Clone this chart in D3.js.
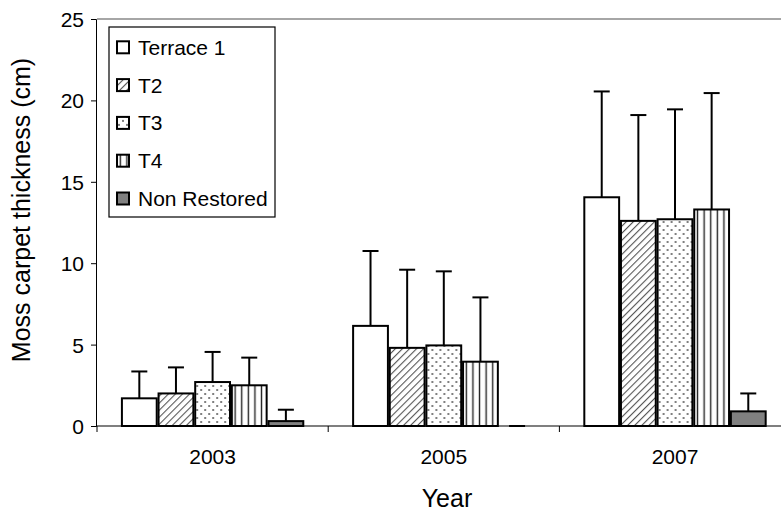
<!DOCTYPE html>
<html>
<head>
<meta charset="utf-8">
<script src="https://cdn.jsdelivr.net/npm/d3@7"></script>
<style>
  body { margin: 0; background: #fff; }
  text { font-family: "Liberation Sans", Arial, sans-serif; fill: #000; }
</style>
</head>
<body>
<svg width="781" height="514"></svg>
<script>
var years = ["2003", "2005", "2007"];
var series = ["Terrace 1", "T2", "T3", "T4", "Non Restored"];

// mean thickness (cm) per year
var terrace1 = [1.7, 6.15, 14.05];
var t2 = [2.0, 4.8, 12.6];
var t3 = [2.7, 4.95, 12.7];
var t4 = [2.5, 3.95, 13.3];
var nonRestored = [0.3, 0, 0.9];

// upper error (sd)
var terrace1Sd = [1.65, 4.6, 6.5];
var t2Sd = [1.6, 4.8, 6.5];
var t3Sd = [1.85, 4.55, 6.75];
var t4Sd = [1.7, 3.95, 7.15];
var nonRestoredSd = [0.7, 0, 1.1];

var yTicks = [0, 5, 10, 15, 20, 25];

var means = [terrace1, t2, t3, t4, nonRestored];
var sds = [terrace1Sd, t2Sd, t3Sd, t4Sd, nonRestoredSd];
var fills = ["#fff", "url(#diag)", "url(#dots)", "url(#vert)", "#808080"];

var data = [];
years.forEach(function(yr, i) {
    series.forEach(function(s, j) {
        data.push({year: yr, series: s, value: means[j][i], sd: sds[j][i], fill: fills[j]});
    });
});

var svg = d3.select("svg");
var defs = svg.append("defs");

var diag = defs.append("pattern").attr("id", "diag")
    .attr("patternUnits", "userSpaceOnUse").attr("width", 5).attr("height", 5)
    .attr("patternTransform", "rotate(45)");
diag.append("rect").attr("width", 5).attr("height", 5).attr("fill", "#fff");
diag.append("line").attr("x1", 0).attr("y1", 0).attr("x2", 0).attr("y2", 5)
    .attr("stroke", "#555").attr("stroke-width", 2.2);

var dots = defs.append("pattern").attr("id", "dots")
    .attr("patternUnits", "userSpaceOnUse").attr("width", 8).attr("height", 8);
dots.append("rect").attr("width", 8).attr("height", 8).attr("fill", "#fff");
dots.append("circle").attr("cx", 2).attr("cy", 2).attr("r", 1).attr("fill", "#555");
dots.append("circle").attr("cx", 6).attr("cy", 6).attr("r", 1).attr("fill", "#555");

var vert = defs.append("pattern").attr("id", "vert")
    .attr("patternUnits", "userSpaceOnUse").attr("width", 6.6).attr("height", 6);
vert.append("rect").attr("width", 6.6).attr("height", 6).attr("fill", "#fff");
vert.append("line").attr("x1", 3.3).attr("y1", 0).attr("x2", 3.3).attr("y2", 6)
    .attr("stroke", "#222").attr("stroke-width", 1.4);

var plotLeft = 97, plotTop = 19, plotBottom = 426;

var x0 = d3.scaleBand().domain(years).range([plotLeft, plotLeft + 3 * 231.2]);
var x1 = d3.scaleBand().domain(series).range([0, x0.bandwidth()])
    .paddingInner(0.05).paddingOuter(0.68);
var y = d3.scaleLinear().domain([0, 25]).range([plotBottom, plotTop]);

// top border of plot area
svg.append("line").attr("x1", plotLeft).attr("x2", 781).attr("y1", plotTop).attr("y2", plotTop)
    .attr("stroke", "#888").attr("stroke-width", 1.5);

// y axis
var yAxis = svg.append("g").attr("transform", "translate(" + (plotLeft - 1) + ",0)")
    .call(d3.axisLeft(y).tickValues(yTicks).tickSize(5).tickPadding(7));
yAxis.select(".domain").attr("stroke", "#000");
yAxis.selectAll("text").style("font-size", "21px").attr("dy", "0.36em");

// bars
var bars = svg.append("g").selectAll("g")
    .data(data).enter().append("g")
    .attr("transform", function(d) { return "translate(" + (x0(d.year) + x1(d.series)) + ",0)"; });

bars.append("line")
    .attr("x1", x1.bandwidth() / 2).attr("x2", x1.bandwidth() / 2)
    .attr("y1", function(d) { return y(d.value); })
    .attr("y2", function(d) { return y(d.value + d.sd); })
    .attr("stroke", "#000").attr("stroke-width", 2);
bars.append("line")
    .attr("x1", x1.bandwidth() / 2 - 8).attr("x2", x1.bandwidth() / 2 + 8)
    .attr("y1", function(d) { return y(d.value + d.sd); })
    .attr("y2", function(d) { return y(d.value + d.sd); })
    .attr("stroke", "#000").attr("stroke-width", 2);
bars.filter(function(d) { return d.value > 0; }).append("rect")
    .attr("x", 0)
    .attr("width", x1.bandwidth())
    .attr("y", function(d) { return y(d.value); })
    .attr("height", function(d) { return plotBottom - y(d.value); })
    .attr("fill", function(d) { return d.fill; })
    .attr("stroke", "#000").attr("stroke-width", 2);

// x axis
svg.append("line").attr("x1", plotLeft - 1).attr("x2", 781).attr("y1", plotBottom).attr("y2", plotBottom)
    .attr("stroke", "#000").attr("stroke-width", 1.2);
svg.append("g").selectAll("line")
    .data(years).enter().append("line")
    .attr("x1", function(d) { return x0(d); }).attr("x2", function(d) { return x0(d); })
    .attr("y1", plotBottom).attr("y2", plotBottom + 6)
    .attr("stroke", "#000");
var xAxis = svg.append("g").attr("transform", "translate(0," + plotBottom + ")")
    .call(d3.axisBottom(x0).tickSize(0).tickPadding(23));
xAxis.select(".domain").remove();
xAxis.selectAll("text").style("font-size", "21px");

// axis titles
svg.append("text").attr("transform", "translate(30,210) rotate(-90)")
    .attr("text-anchor", "middle").style("font-size", "25px")
    .text("Moss carpet thickness (cm)");
svg.append("text").attr("x", 447).attr("y", 507)
    .attr("text-anchor", "middle").style("font-size", "25px").text("Year");

// legend
var legend = svg.append("g");
legend.append("rect").attr("x", 109).attr("y", 27).attr("width", 166).attr("height", 190)
    .attr("fill", "#fff").attr("stroke", "#000").attr("stroke-width", 1.2);
var items = legend.selectAll("g.item").data(series).enter().append("g")
    .attr("transform", function(d, i) { return "translate(117," + (47.3 + i * 37.8) + ")"; });
items.append("rect").attr("x", 0).attr("y", -6).attr("width", 12).attr("height", 12)
    .attr("fill", function(d, i) { return fills[i]; })
    .attr("stroke", "#000").attr("stroke-width", 2);
items.append("text").attr("x", 21).attr("dy", "0.36em")
    .style("font-size", "21px").text(function(d) { return d; });
</script>
</body>
</html>
